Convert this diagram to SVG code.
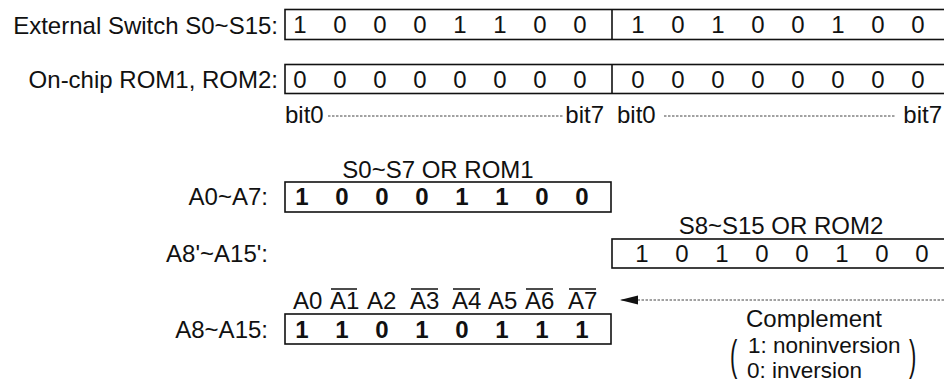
<svg xmlns="http://www.w3.org/2000/svg" width="944" height="383" viewBox="0 0 944 383">
<style>
text{font-family:"Liberation Sans",Arial,sans-serif;font-size:24px;fill:#111}
.b{font-weight:bold}
.m{text-anchor:middle}
.e{text-anchor:end}
.box{fill:none;stroke:#111;stroke-width:1.6}
.dot{stroke:#444;stroke-width:1;stroke-dasharray:2.5 1.5;fill:none}
.ol{stroke:#111;stroke-width:1.5}
.s{font-size:22.5px}
</style>
<defs>
<marker id="ah" viewBox="0 0 18 10" refX="18" refY="5" markerWidth="18" markerHeight="10" markerUnits="userSpaceOnUse" orient="auto">
<path d="M0,0.5 L18,5 L0,9.5 z" fill="#111"/>
</marker>
</defs>
<rect width="944" height="383" fill="#fff"/>

<g id="switch">
<text class="e" x="278" y="34">External Switch S0~S15:</text>
<rect class="box" x="285" y="9.5" width="662" height="30"/>
<line class="box" x1="612" y1="9.5" x2="612" y2="39.5"/>
<g class="m">
<text x="300" y="33">1</text><text x="340" y="33">0</text><text x="380" y="33">0</text><text x="420" y="33">0</text>
<text x="460" y="33">1</text><text x="500" y="33">1</text><text x="540" y="33">0</text><text x="580" y="33">0</text>
<text x="638" y="33">1</text><text x="678" y="33">0</text><text x="718" y="33">1</text><text x="758" y="33">0</text>
<text x="798" y="33">0</text><text x="838" y="33">1</text><text x="878" y="33">0</text><text x="918" y="33">0</text>
</g>
</g>

<g id="rom">
<text class="e" x="278" y="88">On-chip ROM1, ROM2:</text>
<rect class="box" x="285" y="64.5" width="662" height="29"/>
<line class="box" x1="612" y1="64.5" x2="612" y2="93.5"/>
<g class="m">
<text x="300" y="88">0</text><text x="340" y="88">0</text><text x="380" y="88">0</text><text x="420" y="88">0</text>
<text x="460" y="88">0</text><text x="500" y="88">0</text><text x="540" y="88">0</text><text x="580" y="88">0</text>
<text x="638" y="88">0</text><text x="678" y="88">0</text><text x="718" y="88">0</text><text x="758" y="88">0</text>
<text x="798" y="88">0</text><text x="838" y="88">0</text><text x="878" y="88">0</text><text x="918" y="88">0</text>
</g>
</g>

<g id="bits">
<text x="285" y="123">bit0</text>
<text class="e" x="604" y="123">bit7</text>
<text x="617" y="123">bit0</text>
<text class="e" x="942" y="123">bit7</text>
<line class="dot" x1="328" y1="116" x2="563" y2="116"/>
<line class="dot" x1="664" y1="116" x2="895" y2="116"/>
</g>

<g id="a0a7">
<text class="m" x="438" y="178">S0~S7 OR ROM1</text>
<text class="e" x="268" y="205">A0~A7:</text>
<rect class="box" x="285" y="182" width="326" height="30"/>
<g class="m b">
<text x="302" y="205">1</text><text x="342" y="205">0</text><text x="382" y="205">0</text><text x="422" y="205">0</text>
<text x="462" y="205">1</text><text x="502" y="205">1</text><text x="542" y="205">0</text><text x="582" y="205">0</text>
</g>
</g>

<g id="a8a15p">
<text class="m" x="781" y="234">S8~S15 OR ROM2</text>
<text class="e" x="268" y="262">A8'~A15':</text>
<rect class="box" x="612" y="239" width="335" height="29"/>
<g class="m">
<text x="642" y="262">1</text><text x="682" y="262">0</text><text x="722" y="262">1</text><text x="762" y="262">0</text>
<text x="802" y="262">0</text><text x="842" y="262">1</text><text x="882" y="262">0</text><text x="922" y="262">0</text>
</g>
</g>

<g id="a8a15">
<text x="293" y="309">A0</text>
<text x="330" y="309">A1</text>
<text x="367" y="309">A2</text>
<text x="410" y="309">A3</text>
<text x="452" y="309">A4</text>
<text x="488" y="309">A5</text>
<text x="525" y="309">A6</text>
<text x="568" y="309">A7</text>
<line class="ol" x1="331" y1="289" x2="357" y2="289"/>
<line class="ol" x1="411" y1="289" x2="438" y2="289"/>
<line class="ol" x1="453" y1="289" x2="480" y2="289"/>
<line class="ol" x1="526" y1="289" x2="553" y2="289"/>
<line class="ol" x1="569" y1="289" x2="596" y2="289"/>
<text class="e" x="268" y="338">A8~A15:</text>
<rect class="box" x="285" y="314" width="326" height="30"/>
<g class="m b">
<text x="302" y="338">1</text><text x="342" y="338">1</text><text x="382" y="338">0</text><text x="422" y="338">1</text>
<text x="462" y="338">0</text><text x="502" y="338">1</text><text x="542" y="338">1</text><text x="582" y="338">1</text>
</g>
</g>

<g id="complement">
<text class="m" x="814" y="327">Complement</text>
<text class="s" x="748" y="353">1: noninversion</text>
<text class="s" x="747" y="378">0: inversion</text>
<text x="0" y="0" transform="translate(730,370) scale(1,1.9)" style="font-size:22px">(</text>
<text x="0" y="0" transform="translate(909,370) scale(1,1.9)" style="font-size:22px">)</text>
</g>

<g id="connectors">
<line class="dot" x1="944" y1="300" x2="620" y2="300" stroke="#222" stroke-width="1.2" marker-end="url(#ah)"/>
</g>
</svg>
